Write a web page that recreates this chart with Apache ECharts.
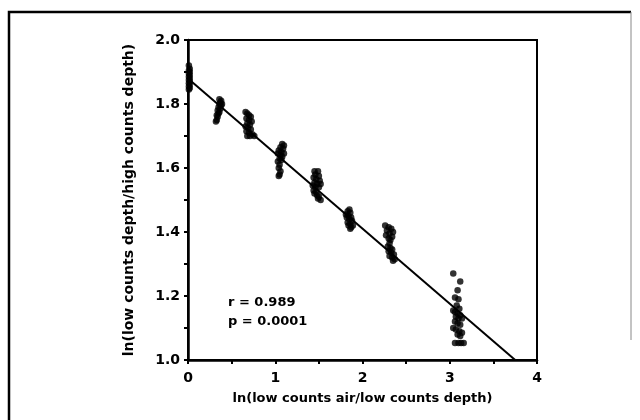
<!DOCTYPE html>
<html>
<head>
<meta charset="utf-8">
<script src="https://cdn.jsdelivr.net/npm/echarts@6/dist/echarts.min.js"></script>
<style>
  html, body { margin: 0; padding: 0; background: #fff; }
  #chart { width: 640px; height: 420px; }
</style>
</head>
<body>
<div id="chart"></div>
<script>
// Measured points, grouped by cluster along x
var cluster0 = [[0.01,1.92],[0.02,1.91],[0.01,1.905],[0.02,1.90],[0.01,1.895],[0.02,1.89],[0.01,1.885],
  [0.02,1.88],[0.01,1.875],[0.02,1.87],[0.01,1.865],[0.02,1.86],[0.01,1.855],[0.02,1.85],[0.01,1.845]];
var cluster1 = [[0.36,1.815],[0.38,1.81],[0.37,1.805],[0.39,1.80],[0.36,1.80],[0.38,1.795],[0.35,1.79],
  [0.37,1.785],[0.34,1.78],[0.36,1.775],[0.35,1.77],[0.33,1.765],[0.34,1.76],[0.33,1.75],[0.32,1.745]];
var cluster2 = [[0.66,1.775],[0.68,1.77],[0.70,1.765],[0.72,1.76],[0.67,1.755],[0.70,1.75],[0.73,1.745],
  [0.68,1.74],[0.71,1.735],[0.66,1.73],[0.69,1.725],[0.72,1.72],[0.67,1.715],[0.70,1.71],[0.74,1.705],
  [0.68,1.70],[0.71,1.70],[0.76,1.70]];
var cluster3 = [[1.08,1.675],[1.10,1.67],[1.06,1.665],[1.09,1.66],[1.04,1.655],[1.07,1.65],[1.10,1.645],
  [1.03,1.645],[1.06,1.64],[1.08,1.635],[1.05,1.63],[1.07,1.625],[1.03,1.62],[1.05,1.61],[1.04,1.60],
  [1.06,1.59],[1.05,1.58],[1.04,1.575]];
var cluster4 = [[1.45,1.59],[1.49,1.59],[1.46,1.58],[1.50,1.575],[1.44,1.57],[1.47,1.565],[1.51,1.56],
  [1.45,1.555],[1.48,1.55],[1.52,1.55],[1.43,1.545],[1.46,1.54],[1.50,1.54],[1.44,1.53],[1.47,1.525],
  [1.45,1.52],[1.48,1.515],[1.50,1.51],[1.52,1.50],[1.49,1.505]];
var cluster5 = [[1.85,1.47],[1.83,1.465],[1.86,1.46],[1.81,1.455],[1.84,1.45],[1.87,1.445],[1.82,1.445],
  [1.85,1.44],[1.88,1.435],[1.83,1.43],[1.86,1.425],[1.89,1.42],[1.84,1.42],[1.87,1.415],[1.86,1.41]];
var cluster6 = [[2.26,1.42],[2.30,1.415],[2.33,1.41],[2.28,1.405],[2.35,1.40],[2.31,1.395],[2.27,1.39],
  [2.34,1.385],[2.30,1.38],[2.32,1.375],[2.31,1.365],[2.29,1.355],[2.32,1.35],[2.34,1.345],[2.30,1.34],
  [2.33,1.335],[2.36,1.33],[2.31,1.325],[2.34,1.32],[2.37,1.315],[2.35,1.31]];
var cluster7 = [[3.04,1.27],[3.12,1.245],[3.09,1.218],[3.06,1.195],[3.10,1.19],[3.08,1.17],[3.11,1.16],
  [3.04,1.155],[3.06,1.15],[3.09,1.145],[3.12,1.14],[3.07,1.135],[3.10,1.13],[3.14,1.13],[3.06,1.12],
  [3.09,1.115],[3.12,1.11],[3.04,1.10],[3.07,1.095],[3.11,1.09],[3.14,1.085],[3.09,1.08],[3.12,1.075],
  [3.06,1.053],[3.10,1.053],[3.13,1.053],[3.16,1.053]];
// Regression line end points
var fitLine = [[0, 1.88], [3.75, 1.0]];
var statsText = ['r = 0.989', 'p = 0.0001'];
var xTitle = 'ln(low counts air/low counts depth)';
var yTitle = 'ln(low counts depth/high counts depth)';

var points = [].concat(cluster0, cluster1, cluster2, cluster3, cluster4, cluster5, cluster6, cluster7);
var font = '"DejaVu Sans", Arial, sans-serif';

var chart = echarts.init(document.getElementById('chart'));
chart.setOption({
  animation: false,
  backgroundColor: '#fff',
  grid: {
    left: 188, right: 103, top: 40, bottom: 60,
    show: true, borderColor: '#000', borderWidth: 2
  },
  xAxis: {
    type: 'value', min: 0, max: 4, interval: 1,
    name: xTitle, nameLocation: 'middle', nameGap: 32,
    nameTextStyle: { color: '#000', fontFamily: font, fontWeight: 'bold', fontSize: 13 },
    axisLine: { lineStyle: { color: '#000', width: 2.5 } },
    axisTick: { length: 4, lineStyle: { color: '#000', width: 2 } },
    minorTick: { show: true, splitNumber: 2, length: 4, lineStyle: { color: '#000', width: 2 } },
    splitLine: { show: false },
    axisLabel: { color: '#000', fontFamily: font, fontWeight: 'bold', fontSize: 14, margin: 11 }
  },
  yAxis: {
    type: 'value', min: 1.0, max: 2.0, interval: 0.2,
    name: yTitle, nameLocation: 'middle', nameGap: 52, nameRotate: 90,
    nameTextStyle: { color: '#000', fontFamily: font, fontWeight: 'bold', fontSize: 14 },
    axisLine: { lineStyle: { color: '#000', width: 2.5 } },
    axisTick: { length: 4, lineStyle: { color: '#000', width: 2 } },
    minorTick: { show: true, splitNumber: 2, length: 4, lineStyle: { color: '#000', width: 2 } },
    splitLine: { show: false },
    axisLabel: {
      color: '#000', fontFamily: font, fontWeight: 'bold', fontSize: 14, margin: 8,
      formatter: function (v) { return v.toFixed(1); }
    }
  },
  series: [
    {
      type: 'scatter', data: points, symbolSize: 6.5,
      itemStyle: { color: '#000' }, z: 3
    },
    {
      type: 'line', data: fitLine, symbol: 'none',
      lineStyle: { color: '#000', width: 2 }, z: 2
    }
  ],
  graphic: [
    {
      type: 'polyline', silent: true,
      shape: { points: [[9, 430], [9, 12], [631, 12]] },
      style: { stroke: '#000', lineWidth: 2.5, fill: null }
    },
    {
      type: 'line', silent: true,
      shape: { x1: 631, y1: 12, x2: 631, y2: 340 },
      style: { stroke: '#888', lineWidth: 1 }
    },
    {
      type: 'text', left: 228, top: 293,
      style: { text: statsText.join('\n'), fill: '#000', font: 'bold 13px ' + font, lineHeight: 19 }
    }
  ]
});
</script>
</body>
</html>
